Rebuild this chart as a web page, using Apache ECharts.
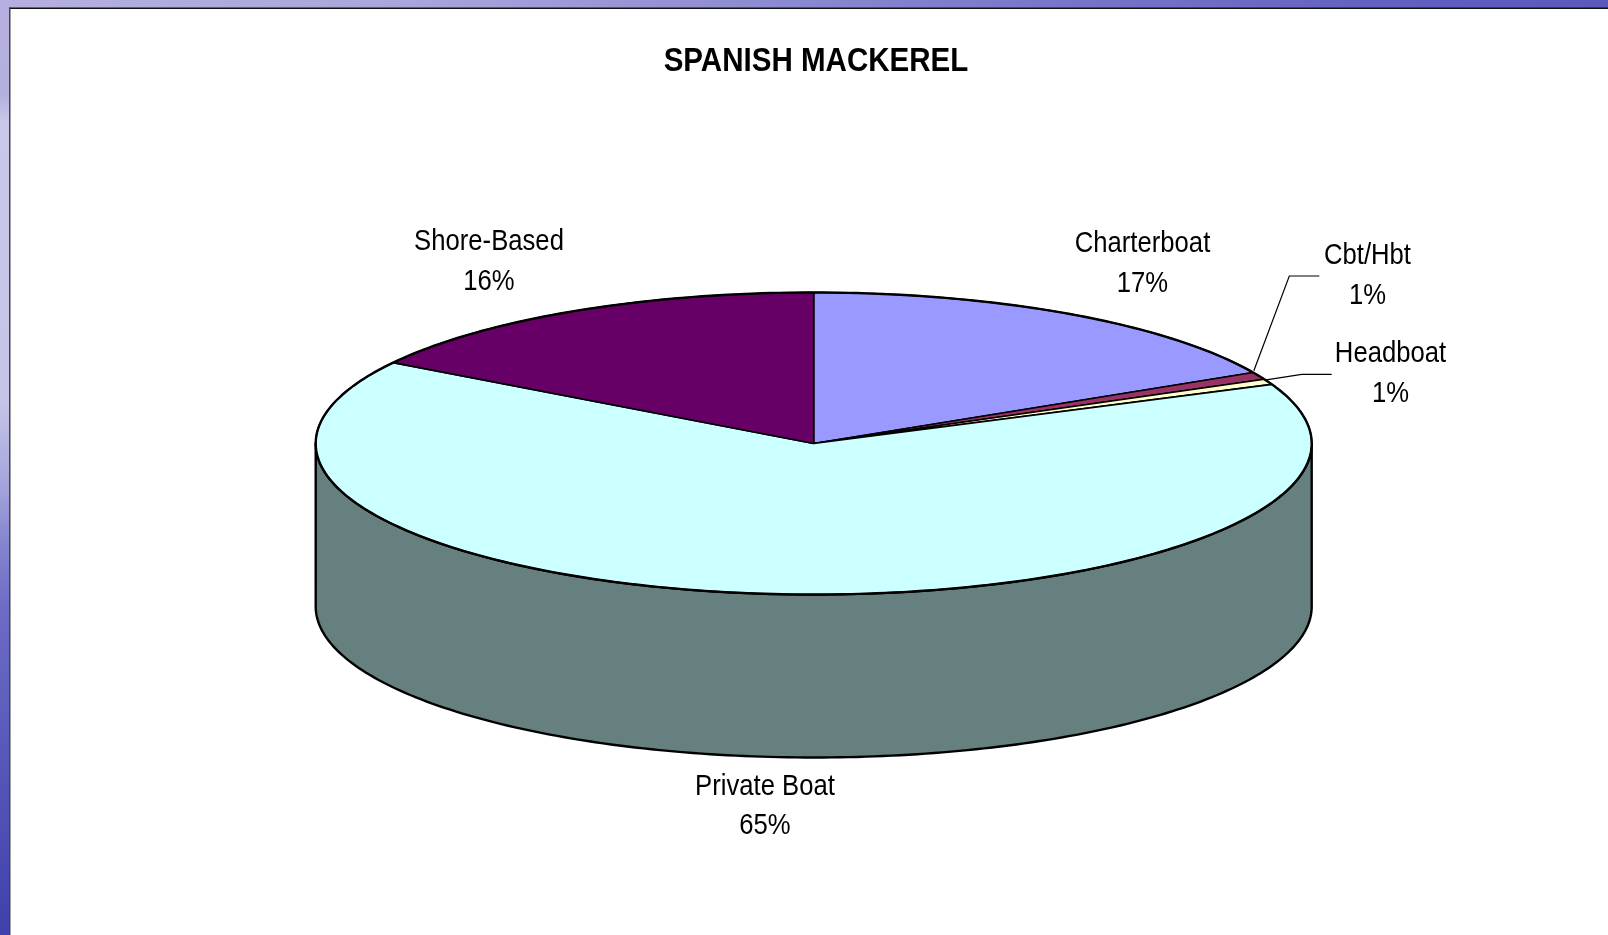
<!DOCTYPE html>
<html><head><meta charset="utf-8">
<style>html,body{margin:0;padding:0;background:#fff}#c{width:1608px;height:935px}</style>
<script src="https://cdn.jsdelivr.net/npm/echarts@6/dist/echarts.min.js"></script>
</head><body><div id="c"></div>
<script>
// ---- data ----
const categories = ['Charterboat', 'Cbt/Hbt', 'Headboat', 'Private Boat', 'Shore-Based'];
const shares = [17.2, 0.8, 0.6, 65.4, 16.0];
const titleText = 'SPANISH MACKEREL';
// ---- styles / layout ----
const topColors = ['#9999FF', '#993366', '#FFFFCC', '#CCFFFF', '#660066'];
const wallColors = ['#4D4D80', '#4D1A33', '#808066', '#668080', '#330033'];
const labelCentres = [[1142.5, 244], [1367.5, 256], [1390.5, 354], [765, 786.5], [489, 242]];
const leaderElbows = [null, [[1289.3, 276], [1319.3, 276]], [[1301.7, 374.3], [1331.7, 374.3]], null, null];
const leaderOffsets = [null, [-5, -5], [-2, -2], null, null];
const FONT = '"Liberation Sans", Arial, sans-serif';
const CX = 813.7, CY = 443.5, RX = 498, RY = 151, DEPTH = 163;
const LINE_GAP = 39.5, SQUEEZE = 0.885;

const total = shares.reduce((a, b) => a + b, 0);
const starts = shares.map((_, i) => shares.slice(0, i).reduce((a, b) => a + b, 0) / total * 360);
const rad = d => d * Math.PI / 180;
const rim = (deg, dy) => [CX + RX * Math.sin(rad(deg)), CY - RY * Math.cos(rad(deg)) + (dy || 0)];
const arc = (a, b, dy) => {
  const out = [], n = Math.max(2, Math.ceil((b - a) / 1));
  for (let k = 0; k <= n; k++) out.push(rim(a + (b - a) * k / n, dy));
  return out;
};

function renderSlice(params, api) {
  const i = params.dataIndex;
  const sweep = api.value(0) / total * 360;
  const a = starts[i], b = a + sweep;
  const children = [];
  // visible outer wall: the part of the slice on the front half of the disc
  const wa = Math.max(a, 90), wb = Math.min(b, 270);
  if (wb > wa) {
    children.push({
      type: 'polygon', z2: 1,
      shape: { points: arc(wa, wb, 0).concat(arc(wa, wb, DEPTH).reverse()) },
      style: { fill: wallColors[i], stroke: '#000', lineWidth: 2.4, lineJoin: 'round' }
    });
  }
  // top face
  children.push({
    type: 'polygon', z2: 2,
    shape: { points: [[CX, CY]].concat(arc(a, b, 0)) },
    style: { fill: topColors[i], stroke: '#000', lineWidth: 1.6, lineJoin: 'round' }
  });
  children.push({
    type: 'polyline', z2: 3,
    shape: { points: arc(a, b, 0) },
    style: { fill: null, stroke: '#000', lineWidth: 2.4, lineJoin: 'round' }
  });
  // leader line
  if (leaderElbows[i]) {
    const p = rim(a + sweep / 2, 0);
    children.push({
      type: 'polyline', z2: 4,
      shape: { points: [[p[0] + leaderOffsets[i][0], p[1] + leaderOffsets[i][1]]].concat(leaderElbows[i]) },
      style: { fill: null, stroke: '#000', lineWidth: 1.2 }
    });
  }
  // label: name on first line, rounded share on the second
  const lines = [categories[i], Math.round(api.value(0) / total * 100) + '%'];
  lines.forEach((t, k) => {
    children.push({
      type: 'text', z2: 5,
      x: labelCentres[i][0], y: labelCentres[i][1] + k * LINE_GAP, scaleX: SQUEEZE,
      style: { text: t, fill: '#000', font: '29px ' + FONT, textAlign: 'center', textVerticalAlign: 'middle' }
    });
  });
  return { type: 'group', children };
}

const chart = echarts.init(document.getElementById('c'), null, { renderer: 'canvas', width: 1608, height: 935 });
chart.setOption({
  animation: false,
  backgroundColor: '#fff',
  graphic: [
    { type: 'rect', z: 0, shape: { x: 0, y: 0, width: 1608, height: 8 },
      style: { fill: { type: 'linear', x: 0, y: 0, x2: 1, y2: 0, colorStops: [
        { offset: 0, color: '#B5B0DF' }, { offset: 0.25, color: '#A9A6DC' }, { offset: 0.6, color: '#7E7CCB' }, { offset: 0.9, color: '#5F5DBF' }, { offset: 1, color: '#5B59BD' }] } } },
    { type: 'rect', z: 0, shape: { x: 0, y: 0, width: 9, height: 935 },
      style: { fill: { type: 'linear', x: 0, y: 0, x2: 0, y2: 1, colorStops: [
        { offset: 0, color: '#B5B0DF' }, { offset: 0.1, color: '#B3AFDF' }, { offset: 0.13, color: '#C8C8EA' },
        { offset: 0.43, color: '#C4C4E8' }, { offset: 0.52, color: '#A4A4DC' }, { offset: 0.58, color: '#8585D0' },
        { offset: 0.65, color: '#6C6CC6' }, { offset: 0.75, color: '#5F5FBE' }, { offset: 1, color: '#4040AC' }] } } },
    { type: 'rect', z: 1, shape: { x: 9, y: 7.5, width: 1599, height: 1.5 }, style: { fill: '#111' } },
    { type: 'rect', z: 1, shape: { x: 9, y: 7.5, width: 1.5, height: 928 }, style: { fill: '#444' } },
    { type: 'text', z: 5, x: 816, y: 62, scaleX: 0.895,
      style: { text: titleText, fill: '#000', font: 'bold 33px ' + FONT, textAlign: 'center', textVerticalAlign: 'middle' } }
  ],
  series: [{
    type: 'custom',
    coordinateSystem: 'none',
    silent: true,
    clip: false,
    renderItem: renderSlice,
    data: shares.map((v, i) => ({ name: categories[i], value: [v] }))
  }]
});
</script></body></html>
